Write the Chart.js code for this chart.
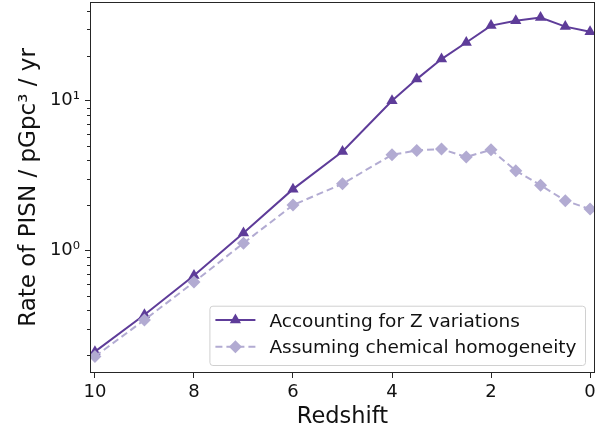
<!DOCTYPE html>
<html>
<head>
<meta charset="utf-8">
<script src="https://cdn.jsdelivr.net/npm/chart.js@4.4.0/dist/chart.umd.min.js"></script>
<style>
  html, body { margin: 0; padding: 0; background: #fff; }
  #wrap { width: 611px; height: 435px; }
</style>
</head>
<body>
<div id="wrap"><canvas id="pisn"></canvas></div>
<script>
// PISN rate per redshift bin, two metallicity assumptions
const redshifts = [10, 9, 8, 7, 6, 5, 4, 3.5, 3, 2.5, 2, 1.5, 1, 0.5, 0];
const rateZVar  = [0.211, 0.372, 0.681, 1.31, 2.57, 4.58, 10.0, 13.96, 19.0, 24.5, 31.8, 34.2, 36.0, 31.3, 28.9];
const rateHomog = [0.196, 0.344, 0.615, 1.12, 2.01, 2.79, 4.36, 4.66, 4.76, 4.21, 4.71, 3.41, 2.73, 2.15, 1.89];

const seriesLabels = ['Accounting for Z variations', 'Assuming chemical homogeneity'];
const xTicks = [0, 2, 4, 6, 8, 10];
const yMajorTicks = [1, 10];
const yTickLabels = ['10⁰', '10¹'];
const yMinorTicks = [0.2, 0.3, 0.4, 0.5, 0.6, 0.7, 0.8, 0.9, 2, 3, 4, 5, 6, 7, 8, 9, 20, 30, 40];

const FONT = '"DejaVu Sans", sans-serif';
const INK = '#262626';

function marker(ctx, style, r, x, y) {
  ctx.beginPath();
  if (style === 'triangle') {
    ctx.moveTo(x, y - r);
    ctx.lineTo(x + r * Math.sin(2 * Math.PI / 3), y + r / 2);
    ctx.lineTo(x - r * Math.sin(2 * Math.PI / 3), y + r / 2);
  } else {
    ctx.moveTo(x - r, y);
    ctx.lineTo(x, y - r);
    ctx.lineTo(x + r, y);
    ctx.lineTo(x, y + r);
  }
  ctx.closePath();
  ctx.fill();
}

// axes frame + short minor ticks on the log axis
const frame = {
  id: 'frame',
  afterDraw(chart) {
    const { ctx, chartArea: a } = chart;
    const ys = chart.scales.y;
    ctx.save();
    ctx.strokeStyle = INK;
    ctx.lineWidth = 1;
    ctx.strokeRect(a.left + 0.5, a.top + 0.5, a.right - a.left - 1, a.bottom - a.top - 1);
    ctx.beginPath();
    yMinorTicks.forEach(v => {
      const py = Math.round(ys.getPixelForValue(v)) + 0.5;
      ctx.moveTo(a.left, py);
      ctx.lineTo(a.left - 3, py);
    });
    ctx.stroke();
    ctx.restore();
  }
};

// boxed legend in the lower right corner of the plot
const boxLegend = {
  id: 'boxLegend',
  afterDraw(chart) {
    const { ctx, chartArea: a } = chart;
    const sets = chart.data.datasets;
    ctx.save();
    ctx.font = '18.5px ' + FONT;
    const textW = Math.max(...sets.map(d => ctx.measureText(d.label).width));
    const w = 68.5 + textW, h = 59.3;
    const x0 = a.right - 10 - w, y0 = a.bottom - 8 - h;
    ctx.beginPath();
    ctx.roundRect(x0 + 0.5, y0 + 0.5, w, h, 3);
    ctx.fillStyle = 'rgba(255,255,255,0.8)';
    ctx.fill();
    ctx.strokeStyle = '#d0d0d0';
    ctx.lineWidth = 1;
    ctx.stroke();
    sets.forEach((d, i) => {
      const cy = y0 + 14.3 + i * 26.7;
      ctx.strokeStyle = d.borderColor;
      ctx.lineWidth = d.borderWidth;
      ctx.setLineDash(d.borderDash || []);
      ctx.beginPath();
      ctx.moveTo(x0 + 6, cy);
      ctx.lineTo(x0 + 46, cy);
      ctx.stroke();
      ctx.setLineDash([]);
      ctx.fillStyle = d.backgroundColor;
      marker(ctx, d.pointStyle, d.pointRadius, x0 + 26, cy);
      ctx.fillStyle = '#111';
      ctx.textBaseline = 'alphabetic';
      ctx.fillText(d.label, x0 + 60, cy + 6.7);
    });
    ctx.restore();
  }
};

const toXY = vals => redshifts.map((z, i) => ({ x: z, y: vals[i] }));

new Chart(document.getElementById('pisn'), {
  type: 'line',
  data: {
    datasets: [
      {
        label: seriesLabels[0], data: toXY(rateZVar), order: 1,
        borderColor: '#5e3c99', backgroundColor: '#5e3c99', borderWidth: 2,
        pointStyle: 'triangle', pointRadius: 6.5, pointBorderWidth: 0, pointHoverRadius: 6.5,
        tension: 0
      },
      {
        label: seriesLabels[1], data: toXY(rateHomog), order: 0,
        borderColor: '#b2abd2', backgroundColor: '#b2abd2', borderWidth: 2, borderDash: [7, 4],
        pointStyle: 'rectRot', pointRadius: 6.5, pointBorderWidth: 0, pointHoverRadius: 6.5,
        tension: 0
      }
    ]
  },
  options: {
    responsive: true,
    maintainAspectRatio: false,
    animation: false,
    layout: { autoPadding: false, padding: { top: 2, right: 16, left: 0, bottom: 0 } },
    plugins: { legend: { display: false }, tooltip: { enabled: false } },
    scales: {
      x: {
        type: 'linear', reverse: true, min: -0.1, max: 10.1,
        afterBuildTicks: s => { s.ticks = xTicks.map(v => ({ value: v })); },
        afterFit: s => { s.height = 62; s.paddingLeft = 0; s.paddingRight = 0; },
        grid: { drawOnChartArea: false, tickLength: 5, color: INK },
        border: { display: false },
        ticks: { color: '#111', font: { family: FONT, size: 18 }, padding: 4, maxRotation: 0, autoSkip: false },
        title: { display: true, text: 'Redshift', color: '#111', font: { family: FONT, size: 22.5 }, padding: { top: 0, bottom: 4.5 } }
      },
      y: {
        type: 'logarithmic', min: 0.152, max: 45.7,
        afterBuildTicks: s => { s.ticks = yMajorTicks.map(v => ({ value: v, major: true })); },
        afterFit: s => { s.width = 90; s.paddingTop = 0; s.paddingBottom = 0; },
        grid: { drawOnChartArea: false, tickLength: 5, color: INK },
        border: { display: false },
        ticks: {
          color: '#111', font: { family: FONT, size: 18 }, padding: 5, autoSkip: false,
          callback: v => yTickLabels[yMajorTicks.indexOf(v)] ?? ''
        },
        title: { display: true, text: 'Rate of PISN / pGpc³ / yr', color: '#111', font: { family: FONT, size: 23 }, padding: { top: 15, bottom: 0 } }
      }
    }
  },
  plugins: [frame, boxLegend]
});
</script>
</body>
</html>
